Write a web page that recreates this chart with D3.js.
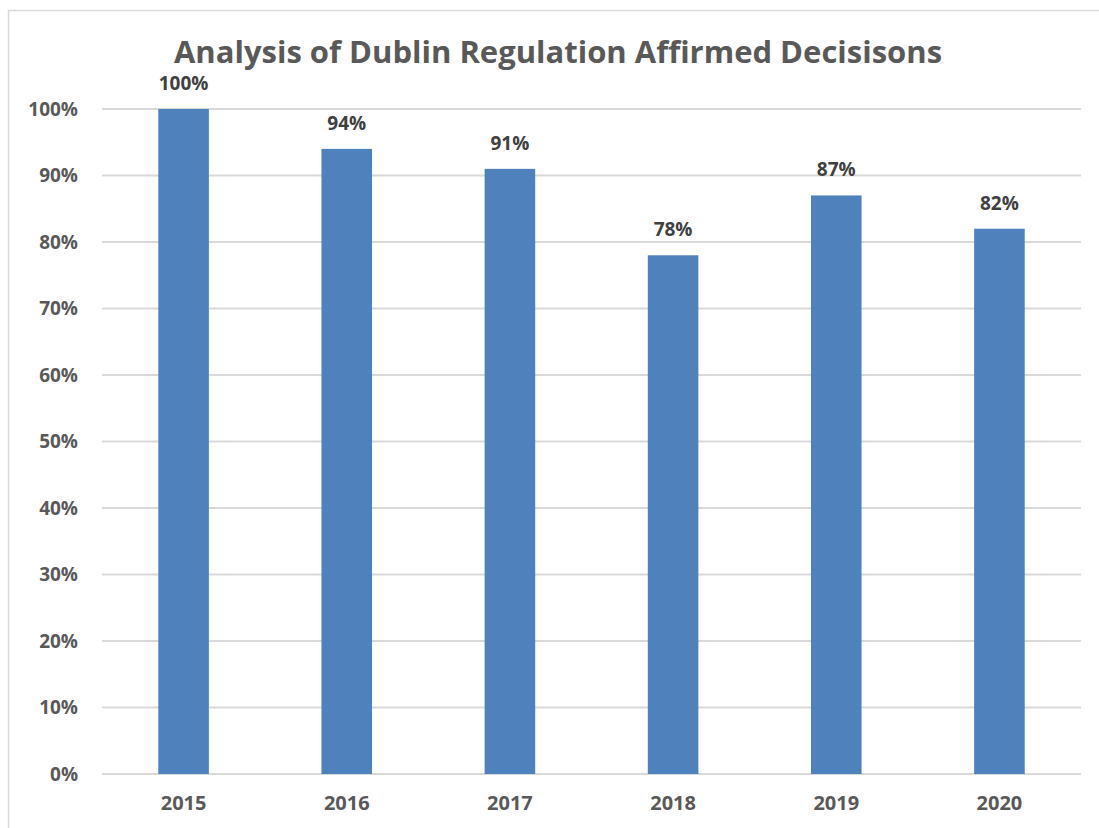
<!DOCTYPE html>
<html>
<head>
<meta charset="utf-8">
<script src="https://cdn.jsdelivr.net/npm/d3@7"></script>
<style>
  body { margin: 0; background: white; }
  text { font-family: "Open Sans", sans-serif; font-weight: bold; }
</style>
</head>
<body>
<script>
const years = ['2015', '2016', '2017', '2018', '2019', '2020'];
const affirmed = [100, 94, 91, 78, 87, 82];
const yTicks = [0, 10, 20, 30, 40, 50, 60, 70, 80, 90, 100];

const w = 1099, h = 828;
const margin = { left: 102, right: 18, top: 109, bottom: 54 };

const svg = d3.select('body').append('svg')
  .attr('width', w)
  .attr('height', h);

// outer chart border (runs off the right/bottom edge)
svg.append('rect')
  .attr('x', 8.5).attr('y', 10.5)
  .attr('width', w + 10).attr('height', h + 10)
  .attr('fill', 'white')
  .attr('stroke', '#d9d9d9')
  .attr('stroke-width', 1.5);

const x = d3.scaleBand()
  .domain(years)
  .range([margin.left, w - margin.right])
  .paddingInner(0.69)
  .paddingOuter(0.345);

const y = d3.scaleLinear()
  .domain([0, 100])
  .range([h - margin.bottom, margin.top]);

// gridlines
svg.append('g')
  .selectAll('line')
  .data(yTicks)
  .enter()
  .append('line')
  .attr('x1', margin.left)
  .attr('x2', w - margin.right)
  .attr('y1', d => y(d))
  .attr('y2', d => y(d))
  .attr('stroke', '#d9d9d9')
  .attr('stroke-width', 2);

// y axis labels
const yAxis = svg.append('g')
  .attr('transform', `translate(${margin.left},0)`)
  .call(d3.axisLeft(y).tickValues(yTicks).tickFormat(d => d + '%').tickSize(0).tickPadding(24));
yAxis.select('.domain').remove();
yAxis.selectAll('text')
  .attr('fill', '#595959')
  .style('font-size', '19px');

// x axis labels
const xAxis = svg.append('g')
  .attr('transform', `translate(0,${h - margin.bottom})`)
  .call(d3.axisBottom(x).tickSize(0).tickPadding(22));
xAxis.select('.domain').remove();
xAxis.selectAll('text')
  .attr('fill', '#595959')
  .style('font-size', '20px');

// bars
svg.append('g')
  .selectAll('rect')
  .data(affirmed)
  .enter()
  .append('rect')
  .attr('x', (d, i) => x(years[i]))
  .attr('y', d => y(d))
  .attr('width', x.bandwidth())
  .attr('height', d => y(0) - y(d))
  .attr('fill', '#4f81bd');

// value labels
svg.append('g')
  .selectAll('text')
  .data(affirmed)
  .enter()
  .append('text')
  .attr('x', (d, i) => x(years[i]) + x.bandwidth() / 2)
  .attr('y', d => y(d) - 19)
  .attr('text-anchor', 'middle')
  .attr('fill', '#404040')
  .style('font-size', '19px')
  .text(d => d + '%');

// title
svg.append('text')
  .attr('x', 558)
  .attr('y', 63)
  .attr('text-anchor', 'middle')
  .attr('fill', '#595959')
  .style('font-size', '31px')
  .text('Analysis of Dublin Regulation Affirmed Decisisons');
</script>
</body>
</html>
